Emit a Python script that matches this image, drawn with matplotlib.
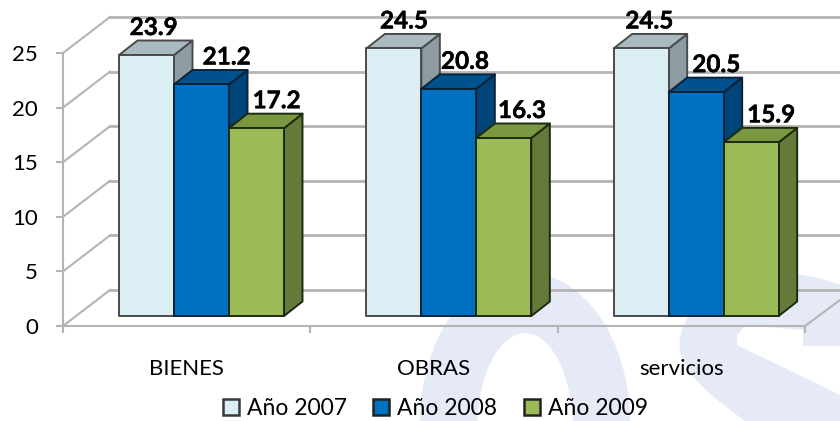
import matplotlib
matplotlib.use('Agg')
import matplotlib.pyplot as plt
import matplotlib.patheffects as pe
from matplotlib.patches import Polygon, Patch, Ellipse, PathPatch
from matplotlib.path import Path

plt.rcParams['font.family'] = ['Lato', 'DejaVu Sans']

categories = ['BIENES', 'OBRAS', 'servicios']
series_names = ['Año 2007', 'Año 2008', 'Año 2009']
v2007 = [23.9, 24.5, 24.5]
v2008 = [21.2, 20.8, 20.5]
v2009 = [17.2, 16.3, 15.9]
y_ticks = [0, 5, 10, 15, 20, 25]

face_cols = ['#DAEEF3', '#0070C0', '#9BBB59']
top_cols = ['#A9BBC0', '#00528F', '#7A9840']
side_cols = ['#8C9CA1', '#00457A', '#657A3A']
edge_cols = ['#4A4A4A', '#0B2238', '#1E2A10']
grid_col = '#B4B4B4'

# labels were hand placed in the original, nudge per bar (px right of bar centre)
label_nudge = [[7, 25, 20], [10, 16, 18], [8, 20, 20]]

W, H = 840, 421
fig = plt.figure(figsize=(W / 100, H / 100), dpi=100)

# pale logo behind the chart, in pixel coords
bg = fig.add_axes((0, 0, 1, 1), zorder=0)
bg.set_xlim(0, W)
bg.set_ylim(H, 0)
bg.axis('off')
wm = '#E6E9F6'
bg.add_patch(Ellipse((525, 422), 210, 300, color=wm, lw=0))
bg.add_patch(Ellipse((525, 430), 96, 194, color='white', lw=0))
s_verts = [(840, 285), (790, 265), (700, 262), (680, 337),
           (675, 370), (710, 395), (745, 421),
           (840, 421), (840, 395),
           (737, 345), (737, 335),
           (745, 325), (803, 330), (803, 346), (840, 346), (840, 285)]
s_codes = [Path.MOVETO, Path.CURVE4, Path.CURVE4, Path.CURVE4,
           Path.CURVE4, Path.CURVE4, Path.CURVE4,
           Path.LINETO, Path.LINETO,
           Path.LINETO, Path.LINETO,
           Path.LINETO, Path.LINETO, Path.LINETO, Path.LINETO, Path.CLOSEPOLY]
bg.add_patch(PathPatch(Path(s_verts, s_codes), color=wm, lw=0))

# axes = front plane of the 3d box
left, right, y0, y25 = 63, 805, 326, 53
ax = fig.add_axes((left / W, 1 - y0 / H, (right - left) / W, (y0 - y25) / H), zorder=1)
ax.patch.set_alpha(0)
ax.set_xlim(0, 3)
ax.set_ylim(0, 25)

px_x = 3 / (right - left)
px_y = 25 / (y0 - y25)
wall_dx, wall_dy = 47 * px_x, 36 * px_y
depth_dx, depth_dy = 18.5 * px_x, 14.5 * px_y
base_y = 10 * px_y
bar_w = 55 * px_x
bar_start = 56 * px_x

# walls
for t in y_ticks:
    ax.plot([0, wall_dx], [t, t + wall_dy], color=grid_col, lw=1.5, clip_on=False, zorder=1)
    ax.plot([wall_dx, (W - left) * px_x], [t + wall_dy, t + wall_dy], color=grid_col, lw=2,
            clip_on=False, zorder=1)
ax.plot([3, 3 + 35 * px_x], [0, 26 * px_y], color=grid_col, lw=1.5, clip_on=False, zorder=1)

# bars
for i in range(len(categories)):
    vals = [v2007[i], v2008[i], v2009[i]]
    for j, v in enumerate(vals):
        x0 = i + bar_start + j * bar_w
        x1 = x0 + bar_w
        y1 = base_y + v
        pts_side = [(x1, base_y), (x1 + depth_dx, base_y + depth_dy),
                    (x1 + depth_dx, y1 + depth_dy), (x1, y1)]
        pts_top = [(x0, y1), (x1, y1), (x1 + depth_dx, y1 + depth_dy), (x0 + depth_dx, y1 + depth_dy)]
        pts_front = [(x0, base_y), (x1, base_y), (x1, y1), (x0, y1)]
        z = 3 + j
        for pts, col in ((pts_side, side_cols[j]), (pts_top, top_cols[j]), (pts_front, face_cols[j])):
            ax.add_patch(Polygon(pts, closed=True, facecolor=col, edgecolor=edge_cols[j], lw=1.4,
                                 joinstyle='round', clip_on=False, zorder=z))
        txt = ax.text((x0 + x1) / 2 + label_nudge[i][j] * px_x, y1 + depth_dy + 13 * px_y, f'{v:.1f}',
                      ha='center', va='center', fontsize=17.5, fontweight='bold', color='black',
                      clip_on=False, zorder=10)
        txt.set_path_effects([pe.withStroke(linewidth=0.3, foreground='black')])

for s in ('top', 'right'):
    ax.spines[s].set_visible(False)
for s in ('left', 'bottom'):
    ax.spines[s].set_color(grid_col)
    ax.spines[s].set_linewidth(1.5)
    ax.spines[s].set_zorder(2)

ax.set_yticks(y_ticks)
ax.set_xticks([0, 1, 2, 3])
ax.set_xticklabels([])
ax.set_xticks([0.5, 1.5, 2.5], minor=True)
ax.set_xticklabels(categories, minor=True, fontsize=16)
ax.tick_params(axis='x', which='major', length=5, width=1.5, color=grid_col)
ax.tick_params(axis='x', which='minor', length=0, pad=24)
ax.tick_params(axis='y', length=5, width=1.5, color=grid_col, labelsize=16, pad=13)

handles = [Patch(facecolor=face_cols[k], edgecolor='#222222' if k else '#3A3A3A', lw=1.8)
           for k in range(3)]
fig.legend(handles, series_names, loc='center', bbox_to_anchor=(0.518, 0.03), ncol=3, frameon=False,
           fontsize=16.5, handlelength=0.7, handleheight=0.7, handletextpad=0.35, columnspacing=1.15,
           borderpad=0, borderaxespad=0)

fig.savefig('out.png', dpi=100)
